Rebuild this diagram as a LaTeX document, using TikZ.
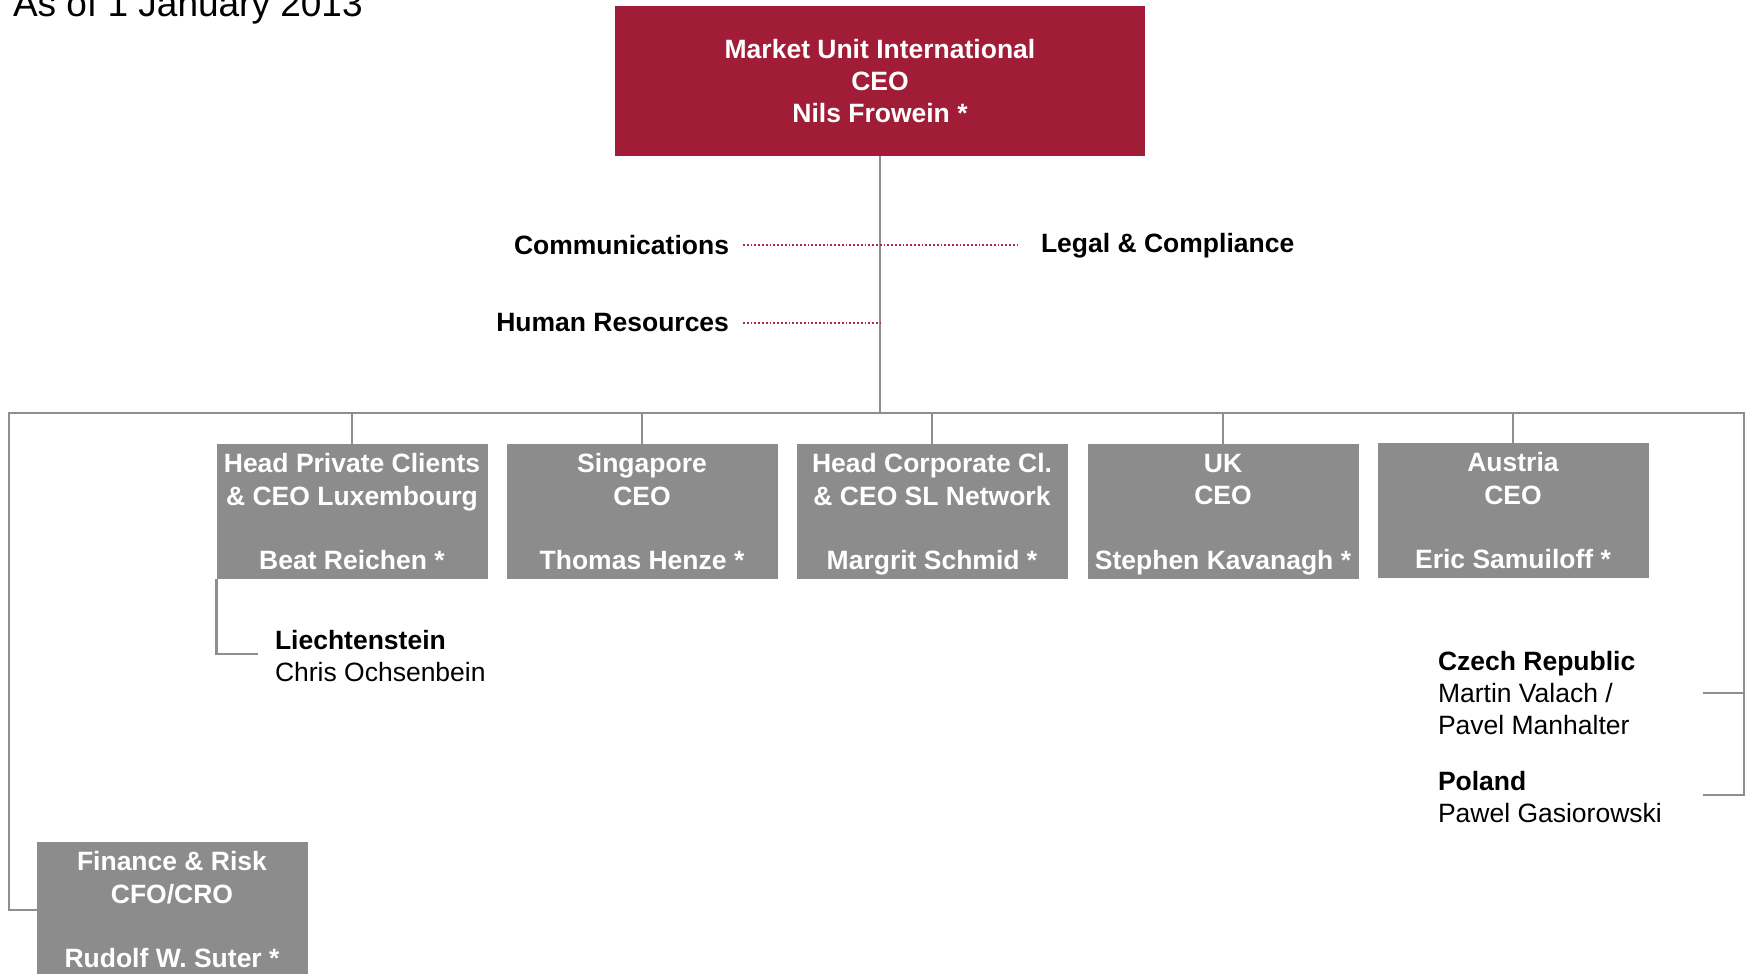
\documentclass[tikz,border=0pt]{standalone}
\usepackage{fontspec}
\setmainfont{Liberation Sans}
\definecolor{ceored}{HTML}{A01C37}
\definecolor{boxgray}{HTML}{8C8C8C}
\definecolor{linegray}{HTML}{8E8E8E}
\definecolor{dotred}{HTML}{B5283F}
\newcommand{\bodyfont}{\fontsize{26.5}{32.3}\selectfont}
\newcommand{\lastline}{\vphantom{g}}
\begin{document}
\begin{tikzpicture}[x=1pt,y=-1pt,
  every node/.style={inner sep=0pt, outer sep=0pt},
  txt/.style={font=\bodyfont, align=left},
  lbl/.style={font=\bodyfont\bfseries},
  headbox/.style={fill=ceored, text=white, minimum width=530pt, minimum height=150.5pt,
    align=center, font=\bodyfont\bfseries},
  unitbox/.style={fill=boxgray, minimum width=271pt, minimum height=135pt},
  boxtext/.style={text=white, align=center, font=\bodyfont\bfseries, yshift=-3pt},
  conn/.style={draw=linegray, line width=2.2pt},
  dotline/.style={draw=dotred, line width=1.7pt, dash pattern=on 1.7pt off 2.1pt}]

\useasboundingbox (0,0) rectangle (1746,974);

% date line
\node[anchor=base west, font=\fontsize{37}{44}\selectfont] (date) at (13,17) {As of 1 January 2013};

% head of the market unit
\node[headbox] (ceo) at (880,81) {Market Unit International\\CEO\\Nils Frowein *};

% staff functions
\node[lbl, anchor=east] (comm) at (729,245) {Communications};
\node[lbl, anchor=east] (hr) at (729,323) {Human Resources};
\node[lbl, anchor=west] (legal) at (1041,245.5) {Legal \& Compliance};

% business units
\node[unitbox, label={[boxtext]center:{Head Private Clients\\\& CEO Luxembourg\\[32.3pt]Beat Reichen *\lastline}}] (pc) at (352,511.5) {};
\node[unitbox, label={[boxtext]center:{Singapore\\CEO\\[32.3pt]Thomas Henze *\lastline}}] (sg) at (642,511.5) {};
\node[unitbox, label={[boxtext]center:{Head Corporate Cl.\\\& CEO SL Network\\[32.3pt]Margrit Schmid *\lastline}}] (cc) at (932,511.5) {};
\node[unitbox, label={[boxtext]center:{UK\\CEO\\[32.3pt]Stephen Kavanagh *\lastline}}] (uk) at (1223,511.5) {};
\node[unitbox, label={[boxtext]center:{Austria\\CEO\\[32.3pt]Eric Samuiloff *\lastline}}] (at) at (1513,510.5) {};
\node[unitbox, label={[boxtext]center:{Finance \& Risk\\CFO/CRO\\[32.3pt]Rudolf W. Suter *\lastline}}] (fin) at (172,909.5) {};

% country heads
\node[txt, anchor=north west] (li) at (275,630) {\textbf{Liechtenstein}\\Chris Ochsenbein};
\node[txt, anchor=north west] (cz) at (1438,651) {\textbf{Czech Republic}\\Martin Valach /\\Pavel Manhalter};
\node[txt, anchor=north west] (pl) at (1438,771) {\textbf{Poland}\\Pawel Gasiorowski};

% bus line
\coordinate (busL) at (9,413);
\coordinate (busR) at (1744,413);
\coordinate (finL) at (9,910);
\coordinate (czEnd) at (1703,693);
\coordinate (plEnd) at (1703,795);
\coordinate (liEnd) at (258,654);

\draw[conn] (ceo.south) -- (ceo.south |- busL);
\draw[conn] (fin.west |- finL) -- (finL) -- (busL) -- (busR) -- (busR |- plEnd) -- (plEnd);
\draw[conn] (busR |- czEnd) -- (czEnd);
\foreach \b in {pc,sg,cc,uk,at}
  \draw[conn] (\b.north) -- (\b.north |- busL);
\draw[conn] (pc.south west) -- (pc.south west |- liEnd) -- (liEnd);

% dotted staff links
\draw[dotline] ([xshift=14pt]comm.east) -- ([xshift=-22pt]legal.west |- comm.east);
\draw[dotline] ([xshift=14pt]hr.east) -- (hr.east -| ceo.south);
\end{tikzpicture}
\end{document}
